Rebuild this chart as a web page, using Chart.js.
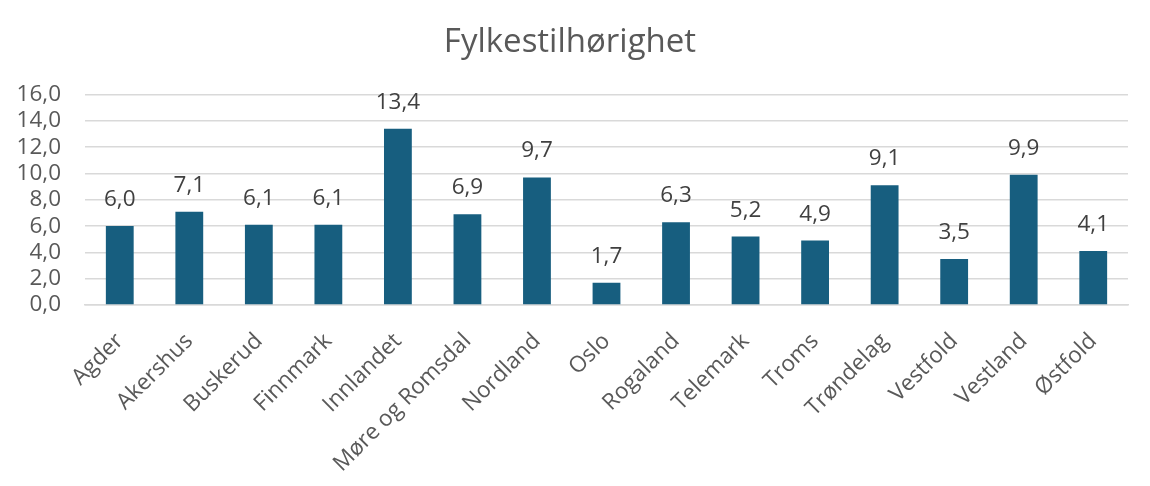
<!DOCTYPE html>
<html>
<head>
<meta charset="utf-8">
<script src="https://cdn.jsdelivr.net/npm/chart.js@4/dist/chart.umd.min.js"></script>
<style>
  html, body { margin: 0; padding: 0; background: #fff; }
  #wrap { width: 1150px; height: 486px; }
</style>
</head>
<body>
<div id="wrap"><canvas id="chart"></canvas></div>
<script>
// data
const fylker = ['Agder', 'Akershus', 'Buskerud', 'Finnmark', 'Innlandet', 'Møre og Romsdal',
    'Nordland', 'Oslo', 'Rogaland', 'Telemark', 'Troms', 'Trøndelag', 'Vestfold', 'Vestland', 'Østfold'];
const andel = [6.0, 7.1, 6.1, 6.1, 13.4, 6.9, 9.7, 1.7, 6.3, 5.2, 4.9, 9.1, 3.5, 9.9, 4.1];
const yTicks = [0, 2, 4, 6, 8, 10, 12, 14, 16];

const fontFamily = '"Open Sans", "Liberation Sans", sans-serif';
const fmt = v => v.toFixed(1).replace('.', ',');

// verdier over søylene
const barLabels = {
    id: 'barLabels',
    afterDatasetsDraw(chart) {
        const ctx = chart.ctx;
        const meta = chart.getDatasetMeta(0);
        ctx.save();
        ctx.font = '22.5px ' + fontFamily;
        ctx.fillStyle = '#404040';
        ctx.textAlign = 'center';
        ctx.textBaseline = 'alphabetic';
        meta.data.forEach((bar, i) => {
            ctx.fillText(fmt(andel[i]), bar.x, bar.y - 20);
        });
        ctx.restore();
    }
};

new Chart(document.getElementById('chart'), {
    type: 'bar',
    data: {
        labels: fylker,
        datasets: [{
            data: andel,
            backgroundColor: '#175e7f',
            categoryPercentage: 1,
            barPercentage: 0.4
        }]
    },
    plugins: [barLabels],
    options: {
        responsive: true,
        maintainAspectRatio: false,
        animation: false,
        layout: { padding: { left: 12, right: 22, top: 23, bottom: 0 } },
        plugins: {
            legend: { display: false },
            tooltip: { enabled: false },
            title: {
                display: true,
                text: 'Fylkestilhørighet',
                color: '#595959',
                font: { family: fontFamily, size: 33, weight: 'normal' },
                padding: { top: 0, bottom: 32 }
            }
        },
        scales: {
            y: {
                min: 0,
                max: 16,
                afterBuildTicks: axis => { axis.ticks = yTicks.map(v => ({ value: v })); },
                afterFit: axis => { axis.width = 73; },
                ticks: {
                    color: '#595959',
                    font: { family: fontFamily, size: 22.5 },
                    padding: 24,
                    autoSkip: false,
                    callback: v => fmt(v)
                },
                grid: { color: '#d9d9d9', lineWidth: 1.5, drawTicks: false },
                border: { display: false }
            },
            x: {
                afterFit: axis => { axis.height = 181; },
                ticks: {
                    color: '#595959',
                    font: { family: fontFamily, size: 22.5 },
                    maxRotation: 45,
                    minRotation: 45,
                    padding: 23,
                    autoSkip: false
                },
                grid: { display: false, drawTicks: false },
                border: { color: '#d9d9d9', width: 1.5 }
            }
        }
    }
});
</script>
</body>
</html>
